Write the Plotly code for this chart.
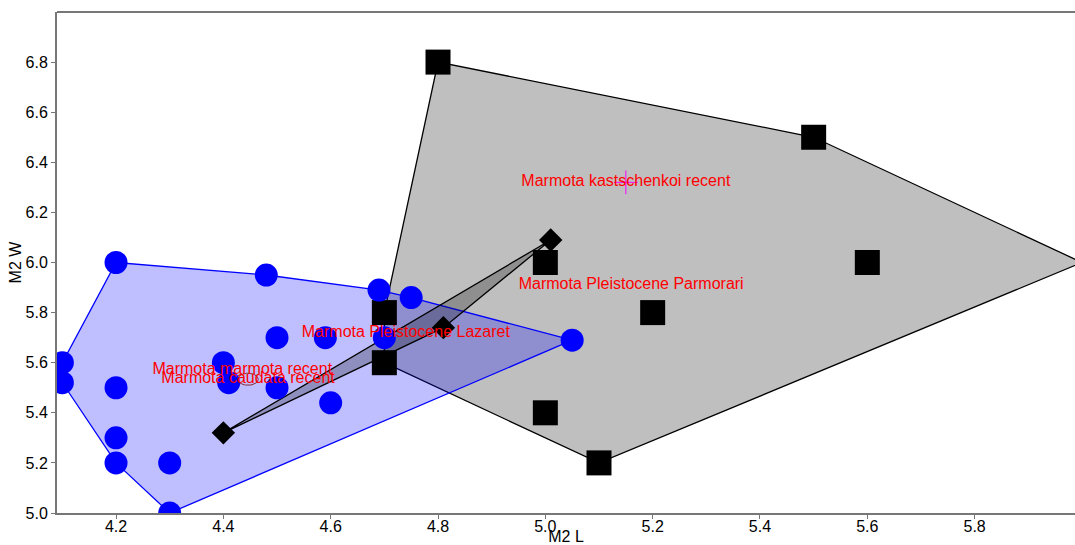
import numpy as np
import plotly.graph_objects as go

# --- M2 measurements (length L, width W) per group ---
marmota_L = [4.1, 4.1, 4.2, 4.2, 4.2, 4.2, 4.3, 4.3, 4.4, 4.41, 4.48, 4.5, 4.5, 4.59, 4.6, 4.69, 4.75, 4.7, 5.05]
marmota_W = [5.6, 5.52, 6.0, 5.5, 5.3, 5.2, 5.2, 5.0, 5.6, 5.52, 5.95, 5.7, 5.5, 5.7, 5.44, 5.89, 5.86, 5.7, 5.69]

parmorari_L = [4.8, 5.5, 6.0, 5.6, 5.0, 5.2, 5.0, 5.1, 4.7, 4.7]
parmorari_W = [6.8, 6.5, 6.0, 6.0, 6.0, 5.8, 5.4, 5.2, 5.8, 5.6]

lazaret_L = [4.4, 4.81, 5.01]
lazaret_W = [5.32, 5.74, 6.09]

caudata_L = [4.446]
caudata_W = [5.534]
caudata_rL = [0.019]   # ellipse half-axes
caudata_rW = [0.024]

kastschenkoi_L = [5.15]
kastschenkoi_W = [6.32]

names = {
    "marmota": "Marmota marmota recent",
    "caudata": "Marmota caudata recent",
    "parmorari": "Marmota Pleistocene Parmorari",
    "lazaret": "Marmota Pleistocene Lazaret",
    "kastschenkoi": "Marmota kastschenkoi recent",
}

x_ticks = [4.2, 4.4, 4.6, 4.8, 5.0, 5.2, 5.4, 5.6, 5.8]
y_ticks = [5.0, 5.2, 5.4, 5.6, 5.8, 6.0, 6.2, 6.4, 6.6, 6.8]

FONT = "Liberation Sans, Arial, sans-serif"


def convex_hull(xs, ys):
    pts = sorted(set(zip(xs, ys)))
    if len(pts) < 3:
        return pts

    def cross(o, a, b):
        return (a[0] - o[0]) * (b[1] - o[1]) - (a[1] - o[1]) * (b[0] - o[0])

    lower, upper = [], []
    for p in pts:
        while len(lower) >= 2 and cross(lower[-2], lower[-1], p) <= 0:
            lower.pop()
        lower.append(p)
    for p in reversed(pts):
        while len(upper) >= 2 and cross(upper[-2], upper[-1], p) <= 0:
            upper.pop()
        upper.append(p)
    hull = lower[:-1] + upper[:-1]
    return hull + [hull[0]]


def hull_trace(xs, ys, fill, line):
    h = convex_hull(xs, ys)
    return go.Scatter(
        x=[p[0] for p in h], y=[p[1] for p in h],
        mode="lines", fill="toself", fillcolor=fill,
        line=dict(color=line, width=1.3), hoverinfo="skip", showlegend=False,
    )


fig = go.Figure()

# group outlines
fig.add_trace(hull_trace(parmorari_L, parmorari_W, "rgba(0,0,0,0.25)", "black"))
fig.add_trace(hull_trace(marmota_L, marmota_W, "rgba(0,0,255,0.25)", "blue"))
fig.add_trace(hull_trace(lazaret_L, lazaret_W, "rgba(0,0,0,0.25)", "black"))

# specimens
fig.add_trace(go.Scatter(x=parmorari_L, y=parmorari_W, mode="markers",
                         marker=dict(symbol="square", size=25, color="black"),
                         name=names["parmorari"], showlegend=False))
fig.add_trace(go.Scatter(x=marmota_L, y=marmota_W, mode="markers",
                         marker=dict(symbol="circle", size=23, color="blue"),
                         name=names["marmota"], showlegend=False))
fig.add_trace(go.Scatter(x=lazaret_L, y=lazaret_W, mode="markers",
                         marker=dict(symbol="diamond", size=18, color="black"),
                         name=names["lazaret"], showlegend=False))

# caudata ellipse
t = np.linspace(0, 2 * np.pi, 60)
fig.add_trace(go.Scatter(
    x=caudata_L[0] + caudata_rL[0] * np.cos(t),
    y=caudata_W[0] + caudata_rW[0] * np.sin(t),
    mode="lines", line=dict(color="#8b2a2a", width=1),
    hoverinfo="skip", showlegend=False))

# kastschenkoi specimen
fig.add_trace(go.Scatter(x=kastschenkoi_L, y=kastschenkoi_W, mode="markers",
                         marker=dict(symbol="cross-thin", size=17,
                                     line=dict(color="#ff00ff", width=1)),
                         name=names["kastschenkoi"], showlegend=False))

# group labels at group means
label_x = [np.mean(marmota_L), np.mean(caudata_L), np.mean(parmorari_L),
           np.mean(lazaret_L), np.mean(kastschenkoi_L)]
label_y = [np.mean(marmota_W), np.mean(caudata_W), np.mean(parmorari_W),
           np.mean(lazaret_W), np.mean(kastschenkoi_W)]
label_txt = [names["marmota"], names["caudata"], names["parmorari"],
             names["lazaret"], names["kastschenkoi"]]
fig.add_trace(go.Scatter(x=label_x, y=label_y, mode="text", text=label_txt,
                         textposition="middle center",
                         textfont=dict(family=FONT, size=16, color="#ff0000"),
                         hoverinfo="skip", showlegend=False, cliponaxis=False))

axis_common = dict(
    showgrid=False, zeroline=False, showline=True, linecolor="#777777",
    linewidth=2, ticks="outside", ticklen=4, tickcolor="#777777",
    tickfont=dict(family=FONT, size=16, color="black"),
    automargin=False,
)

fig.update_layout(
    width=1075, height=545,
    margin=dict(l=57, r=0, t=12, b=32),
    paper_bgcolor="white", plot_bgcolor="white",
    font=dict(family=FONT, size=16, color="black"),
    xaxis=dict(range=[4.09, 5.987], tickvals=x_ticks,
               ticktext=[f"{v:.1f}" for v in x_ticks],
               ticklabelstandoff=-6,
               title=dict(text="M2 L", font=dict(family=FONT, size=16), standoff=0),
               **axis_common),
    yaxis=dict(range=[5.0, 7.0], tickvals=y_ticks,
               ticktext=[f"{v:.1f}" for v in y_ticks],
               title=dict(text="M2 W", font=dict(family=FONT, size=16), standoff=0),
               **axis_common),
    shapes=[dict(type="line", xref="paper", yref="paper", x0=0, x1=1, y0=1, y1=1,
                 line=dict(color="#777777", width=2))],
)

fig.write_html("out.html")
